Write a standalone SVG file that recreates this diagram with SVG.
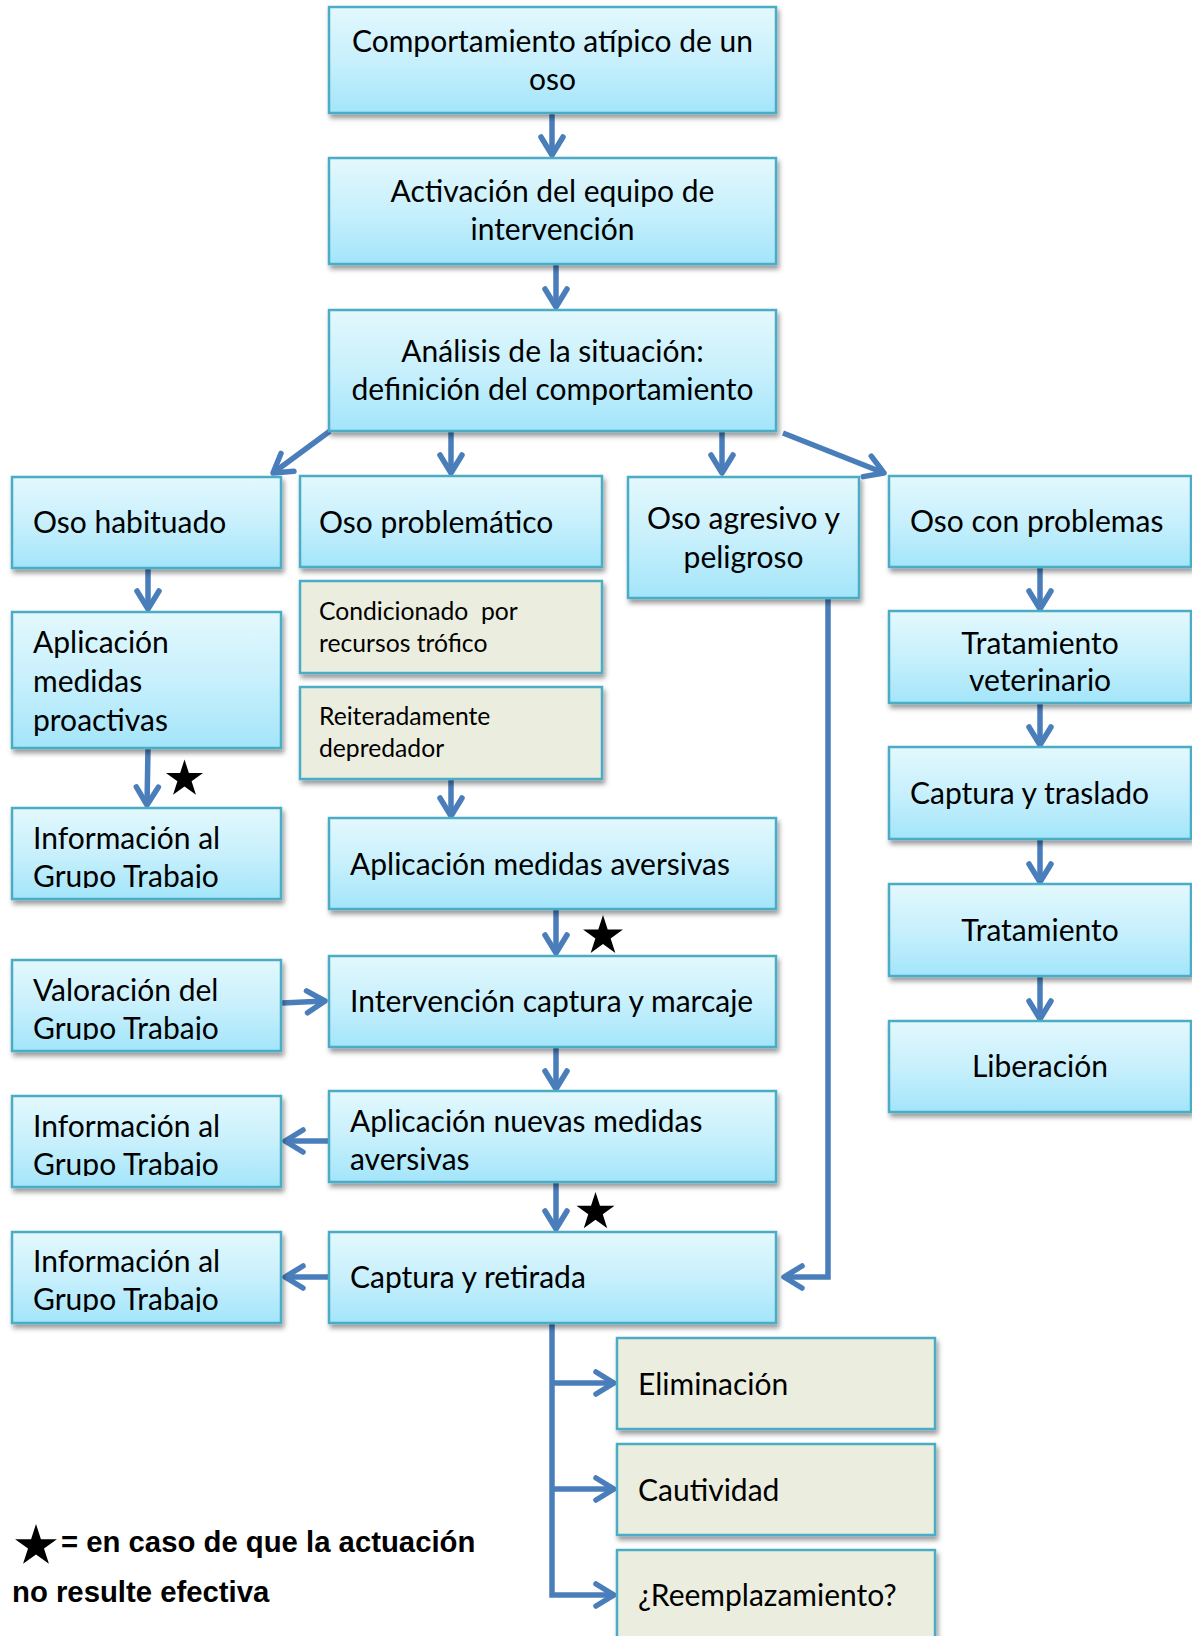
<svg xmlns="http://www.w3.org/2000/svg" width="1192" height="1636" viewBox="0 0 1192 1636">
<style>
.box{fill:url(#blue);stroke:#4bacc6;stroke-width:2.5;filter:url(#sh)}
.tan{fill:#ebeedf;stroke:#4bacc6;stroke-width:2.5;filter:url(#sh)}
text{font-family:Lato,"Open Sans","Liberation Sans",sans-serif;fill:#000}
.t{font-size:30px}
.s{font-size:24.7px}
.c{text-anchor:middle}
.leg{font-family:"Liberation Sans",Arial,sans-serif;font-weight:bold;font-size:29.3px}
.con path{fill:none;stroke:#4a7ebb;stroke-width:5.5;marker-end:url(#ah)}
</style>
<defs>
<linearGradient id="blue" x1="0" y1="0" x2="0" y2="1">
<stop offset="0" stop-color="#e3f8fd"/>
<stop offset="0.5" stop-color="#c8f0fc"/>
<stop offset="1" stop-color="#a3e5fa"/>
</linearGradient>
<filter id="sh" x="-5%" y="-10%" width="115%" height="135%">
<feDropShadow dx="2" dy="4" stdDeviation="2.5" flood-color="#000" flood-opacity="0.4"/>
</filter>
<marker id="ah" markerUnits="userSpaceOnUse" viewBox="-25 -15 30 30" refX="0" refY="0" markerWidth="30" markerHeight="30" orient="auto" overflow="visible">
<path d="M-18,-11 L0,0 L-18,11" fill="none" stroke="#4a7ebb" stroke-width="5.5" stroke-linecap="round" stroke-linejoin="round"/>
</marker>
<path id="star" d="M0,-1 L0.2245,-0.309 L0.951,-0.309 L0.363,0.118 L0.588,0.809 L0,0.382 L-0.588,0.809 L-0.363,0.118 L-0.951,-0.309 L-0.2245,-0.309 Z" fill="#000"/>
<clipPath id="k1"><rect x="12" y="808" width="269" height="80"/></clipPath>
<clipPath id="k2"><rect x="12" y="960" width="269" height="80"/></clipPath>
<clipPath id="k3"><rect x="12" y="1096" width="269" height="80"/></clipPath>
<clipPath id="k4"><rect x="12" y="1232" width="269" height="80"/></clipPath>
</defs>
<rect width="1192" height="1636" fill="#fff"/>

<g class="con" id="connectors">
<path d="M552,113 L552,155"/>
<path d="M556,264 L556,307"/>
<path d="M330,431 L273,473"/>
<path d="M451,431 L451,473"/>
<path d="M722,431 L722,473"/>
<path d="M783,433 L884,473"/>
<path d="M148,568 L148,609"/>
<path d="M148,748 L147,805"/>
<path d="M451,779 L451,816"/>
<path d="M556,910 L556,953"/>
<path d="M282,1003 L325,1001"/>
<path d="M556,1047 L556,1089"/>
<path d="M329,1141 L285,1141"/>
<path d="M556,1183 L556,1229"/>
<path d="M329,1277 L285,1277"/>
<path d="M828,598 L828,1277 L784,1277"/>
<path d="M1040,566 L1040,609"/>
<path d="M1040,703 L1040,745"/>
<path d="M1040,839 L1040,882"/>
<path d="M1040,976 L1040,1019"/>
<path d="M552,1323 L552,1595 L614,1595"/>
<path d="M552,1383 L614,1383"/>
<path d="M552,1489 L614,1489"/>
</g>

<g id="n1"><rect class="box" x="329" y="7" width="447" height="106"/>
<text class="t c" x="552.5" y="52">Comportamiento atípico de un</text>
<text class="t c" x="552.5" y="90">oso</text></g>

<g id="n2"><rect class="box" x="329" y="158" width="447" height="106"/>
<text class="t c" x="552.5" y="202">Activación del equipo de</text>
<text class="t c" x="552.5" y="240">intervención</text></g>

<g id="n3"><rect class="box" x="329" y="310" width="447" height="121"/>
<text class="t c" x="552.5" y="362">Análisis de la situación:</text>
<text class="t c" x="552.5" y="400">definición del comportamiento</text></g>

<g id="n4"><rect class="box" x="12" y="477" width="269" height="91"/>
<text class="t" x="33" y="533">Oso habituado</text></g>

<g id="n5"><rect class="box" x="300" y="476" width="302" height="91"/>
<text class="t" x="319" y="533">Oso problemático</text></g>

<g id="n6"><rect class="box" x="628" y="477" width="231" height="121"/>
<text class="t c" x="743.5" y="529">Oso agresivo y</text>
<text class="t c" x="743.5" y="568">peligroso</text></g>

<g id="n7"><rect class="box" x="889" y="476" width="302" height="91"/>
<text class="t" x="910" y="532">Oso con problemas</text></g>

<g id="n8"><rect class="box" x="12" y="612" width="269" height="136"/>
<text class="t" x="33" y="653">Aplicación</text>
<text class="t" x="33" y="692">medidas</text>
<text class="t" x="33" y="731">proactivas</text></g>

<g id="n9"><rect class="tan" x="300" y="581" width="302" height="92"/>
<text class="s" x="319" y="620" xml:space="preserve">Condicionado  por</text>
<text class="s" x="319" y="652">recursos trófico</text></g>

<g id="n10"><rect class="tan" x="300" y="687" width="302" height="92"/>
<text class="s" x="319" y="725">Reiteradamente</text>
<text class="s" x="319" y="757">depredador</text></g>

<g id="n11"><rect class="box" x="12" y="808" width="269" height="91"/>
<g clip-path="url(#k1)"><text class="t" x="33" y="849">Información al</text>
<text class="t" x="33" y="887">Grupo Trabajo</text></g></g>

<g id="n12"><rect class="box" x="329" y="818" width="447" height="91"/>
<text class="t" x="350" y="875">Aplicación medidas aversivas</text></g>

<g id="n13"><rect class="box" x="12" y="960" width="269" height="91"/>
<g clip-path="url(#k2)"><text class="t" x="33" y="1001">Valoración del</text>
<text class="t" x="33" y="1039">Grupo Trabajo</text></g></g>

<g id="n14"><rect class="box" x="329" y="956" width="447" height="91"/>
<text class="t" x="350" y="1012">Intervención captura y marcaje</text></g>

<g id="n15"><rect class="box" x="12" y="1096" width="269" height="91"/>
<g clip-path="url(#k3)"><text class="t" x="33" y="1137">Información al</text>
<text class="t" x="33" y="1175">Grupo Trabajo</text></g></g>

<g id="n16"><rect class="box" x="329" y="1091" width="447" height="91"/>
<text class="t" x="350" y="1132">Aplicación nuevas medidas</text>
<text class="t" x="350" y="1170">aversivas</text></g>

<g id="n17"><rect class="box" x="12" y="1232" width="269" height="91"/>
<g clip-path="url(#k4)"><text class="t" x="33" y="1272">Información al</text>
<text class="t" x="33" y="1310">Grupo Trabajo</text></g></g>

<g id="n18"><rect class="box" x="329" y="1232" width="447" height="91"/>
<text class="t" x="350" y="1288">Captura y retirada</text></g>

<g id="n19"><rect class="box" x="889" y="611" width="302" height="92"/>
<text class="t c" x="1040" y="654">Tratamiento</text>
<text class="t c" x="1040" y="691">veterinario</text></g>

<g id="n20"><rect class="box" x="889" y="747" width="302" height="92"/>
<text class="t" x="910" y="804">Captura y traslado</text></g>

<g id="n21"><rect class="box" x="889" y="884" width="302" height="92"/>
<text class="t c" x="1040" y="941">Tratamiento</text></g>

<g id="n22"><rect class="box" x="889" y="1021" width="302" height="91"/>
<text class="t c" x="1040" y="1077">Liberación</text></g>

<g id="n23"><rect class="tan" x="617" y="1338" width="318" height="91"/>
<text class="t" x="638" y="1395">Eliminación</text></g>

<g id="n24"><rect class="tan" x="617" y="1444" width="318" height="91"/>
<text class="t" x="638" y="1501">Cautividad</text></g>

<g id="n25"><rect class="tan" x="617" y="1550" width="318" height="95"/>
<text class="t" x="638" y="1606">¿Reemplazamiento?</text></g>

<g id="stars">
<use href="#star" transform="translate(184.5,779) scale(19.5)"/>
<use href="#star" transform="translate(603,936) scale(21)"/>
<use href="#star" transform="translate(595.5,1212) scale(20)"/>
<use href="#star" transform="translate(36,1546) scale(22)"/>
</g>

<g id="legend">
<text class="leg" x="61" y="1552">= en caso de que la actuación</text>
<text class="leg" x="12" y="1602">no resulte efectiva</text>
</g>
</svg>
